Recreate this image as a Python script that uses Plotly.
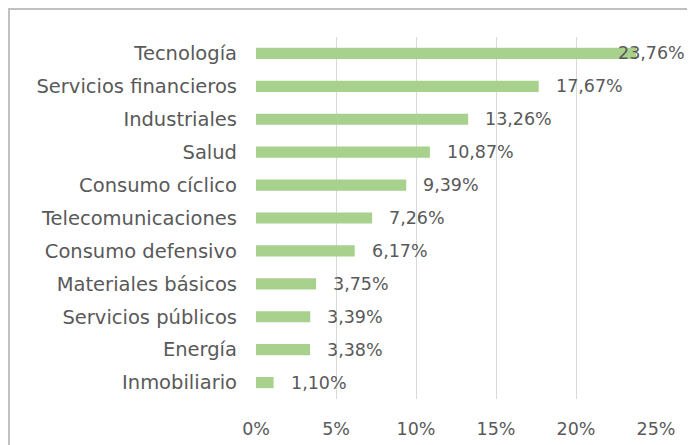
import plotly.graph_objects as go

categories = ["Tecnología", "Servicios financieros", "Industriales", "Salud",
              "Consumo cíclico", "Telecomunicaciones", "Consumo defensivo",
              "Materiales básicos", "Servicios públicos", "Energía", "Inmobiliario"]
values = [23.76, 17.67, 13.26, 10.87, 9.39, 7.26, 6.17, 3.75, 3.39, 3.38, 1.10]
labels = ["23,76%", "17,67%", "13,26%", "10,87%", "9,39%", "7,26%", "6,17%",
          "3,75%", "3,39%", "3,38%", "1,10%"]
tick_vals = [0, 5, 10, 15, 20, 25]
tick_text = ["0%", "5%", "10%", "15%", "20%", "25%"]

FONT = "DejaVu Sans"
GRAY = "#595959"
XMAX = 25
W, H = 695, 445
L, R, T, B = 248, 47, 29, 54

fig = go.Figure(go.Bar(
    y=categories, x=values, orientation="h",
    marker=dict(color="#a9d18e", line=dict(width=0)),
    width=0.34, hoverinfo="skip",
))

for cat, v, t in zip(categories, values, labels):
    if v > XMAX - 3:
        fig.add_annotation(x=XMAX, y=cat, xref="x", yref="y", text=t,
                           xanchor="right", xshift=31, showarrow=False,
                           font=dict(family=FONT, size=17.5, color=GRAY))
    else:
        fig.add_annotation(x=v, y=cat, xref="x", yref="y", text=t,
                           xanchor="left", xshift=15, showarrow=False,
                           font=dict(family=FONT, size=17.5, color=GRAY))

pw, ph = W - L - R, H - T - B
fig.add_shape(type="rect", xref="paper", yref="paper",
              x0=(1 - L) / pw, x1=1 + (R + 20) / pw,
              y0=-(B + 20) / ph, y1=1 + (T - 1) / ph,
              line=dict(color="#c0c0c0", width=2), layer="below")

fig.update_layout(
    width=W, height=H,
    margin=dict(l=L, r=R, t=T, b=B),
    paper_bgcolor="white", plot_bgcolor="white",
    showlegend=False,
    font=dict(family=FONT, size=17.5, color=GRAY),
    xaxis=dict(range=[0, XMAX], tickvals=tick_vals, ticktext=tick_text,
               showgrid=True, gridcolor="#d9d9d9", gridwidth=1.2,
               zeroline=False, showline=False, ticks="", ticklabelstandoff=17,
               tickfont=dict(size=17.5), fixedrange=True),
    yaxis=dict(categoryorder="array", categoryarray=categories[::-1],
               showgrid=False, zeroline=False, showline=False,
               ticks="", ticklabelstandoff=18, tickfont=dict(size=19.5),
               fixedrange=True),
)

fig.write_html("out.html")
